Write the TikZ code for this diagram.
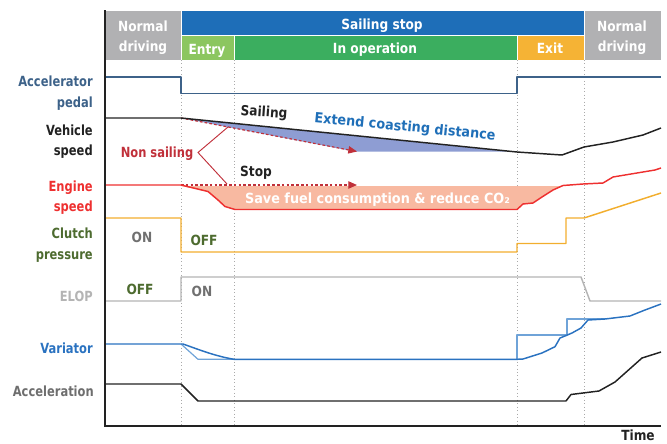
\documentclass[tikz,border=0pt]{standalone}
\usepackage{fontspec}
\setmainfont{DejaVu Sans}[FakeStretch=0.82]
\newfontfamily\midfont{DejaVu Sans}[FakeStretch=0.87]
\newfontfamily\widefont{DejaVu Sans}[FakeStretch=0.915]
\usetikzlibrary{arrows.meta}

\definecolor{hdrgray}{HTML}{B1B1B3}
\definecolor{hdrblue}{HTML}{1E6EB8}
\definecolor{entrygreen}{HTML}{8CC660}
\definecolor{opgreen}{HTML}{3BAE5F}
\definecolor{exitorange}{HTML}{F5B335}
\definecolor{pedalblue}{HTML}{3D6289}
\definecolor{inkblack}{HTML}{222222}
\definecolor{enginered}{HTML}{EE3030}
\definecolor{clutchgreen}{HTML}{4D6B2F}
\definecolor{clutchorange}{HTML}{F2AE2E}
\definecolor{elopgray}{HTML}{B4B4B4}
\definecolor{varblue}{HTML}{2A72C0}
\definecolor{varlight}{HTML}{6FA3D8}
\definecolor{accgray}{HTML}{6E6E6E}
\definecolor{sailfill}{HTML}{8E9DD3}
\definecolor{fuelfill}{HTML}{F8B9A1}
\definecolor{nsred}{HTML}{C0303A}
\definecolor{coastblue}{HTML}{1F6FB8}
\definecolor{ongray}{HTML}{707070}
\definecolor{guidegray}{HTML}{AAAAAA}

\tikzset{
  lbl/.style={font=\bfseries\fontsize{10.5}{12}\selectfont, inner sep=0pt},
  midlbl/.style={font=\midfont\bfseries\fontsize{10.5}{12}\selectfont, inner sep=0pt},
  widelbl/.style={font=\widefont\bfseries\fontsize{10.5}{12}\selectfont, inner sep=0pt},
  hdrbox/.style={draw=white, line width=0.6pt},
  guide/.style={guidegray, dotted, line width=0.6pt},
  sig/.style={line width=1.1pt, line join=round},
  ghost/.style={nsred, line width=0.9pt, dash pattern=on 2pt off 1.6pt,
    -{Triangle[length=6.5pt,width=5.5pt]}},
}

\begin{document}
\begin{tikzpicture}[x=0.75pt,y=-0.75pt]
\useasboundingbox (0,0) rectangle (667,443);

% phase header
\path[hdrbox, fill=hdrgray] (105,10) rectangle (181,60);
\path[hdrbox, fill=hdrblue] (181,10) rectangle (584,35);
\path[hdrbox, fill=entrygreen] (181,35) rectangle (234,60);
\path[hdrbox, fill=opgreen] (234,35) rectangle (517,60);
\path[hdrbox, fill=exitorange] (517,35) rectangle (584,60);
\path[hdrbox, fill=hdrgray] (584,10) rectangle (661,60);

\node[midlbl, white, anchor=base] (nd1a) at (143,31.5) {Normal};
\node[midlbl, white, anchor=base] (nd1b) at (143,51.5) {driving};
\node[midlbl, white, anchor=base] (sstop) at (382,29.3) {Sailing stop};
\node[midlbl, white, anchor=base] (entry) at (207,54) {Entry};
\node[midlbl, white, anchor=base] (inop) at (375,53.3) {In operation};
\node[midlbl, white, anchor=base] (exit) at (550,53.3) {Exit};
\node[midlbl, white, anchor=base] (nd2a) at (622,31.5) {Normal};
\node[midlbl, white, anchor=base] (nd2b) at (622,51.5) {driving};

% phase boundaries
\foreach \gx in {181,234,517,584}
  \draw[guide] (\gx,60) -- (\gx,426);

% shaded gains
\fill[sailfill] (181,118) -- (508,151.6) -- (355,151.6) -- cycle;
\fill[fuelfill] (181,186) -- (208,191.5) -- (218,200) -- (225,206.5) -- (235,209.5)
  -- (517,209.5) -- (523,204) -- (533,203) -- (542,197) -- (553,190) -- (561,186) -- cycle;

% reference behaviour without sailing
\draw[ghost] (181,118) -- (357,151.5);
\draw[ghost] (181,185) -- (357,185);

% accelerator pedal
\draw[sig, pedalblue] (105,77) -- (181,77) -- (181,93.5) -- (517,93.5) -- (517,77) -- (661,77);
% vehicle speed
\draw[sig, inkblack] (105,118) -- (181,118) -- (517,152) -- (562,155) -- (584,147)
  -- (613,142) -- (643,135) -- (661,128);
% engine speed
\draw[sig, enginered] (105,185) -- (181,185) -- (208,191.5) -- (218,200) -- (225,206.5)
  -- (235,209.5) -- (517,209.5) -- (523,204) -- (533,203) -- (542,197) -- (553,190)
  -- (563,185.5) -- (583,184) -- (603,183) -- (613,177) -- (655,170) -- (661,168);
% clutch pressure
\draw[sig, clutchorange] (105,218) -- (181,218) -- (181,252) -- (517,252) -- (517,243.5)
  -- (566,243.5) -- (566,218) -- (584,218) -- (661,193);
% ELOP
\draw[sig, elopgray] (105,301) -- (181,301) -- (181,277) -- (581,277) -- (590,301) -- (661,301);
% variator: commanded (light) and actual (dark)
\draw[sig, varlight, line width=0.9pt] (181,344) -- (198,359.3) -- (234,359.3);
\draw[sig, varlight, line width=0.9pt] (517,359.3) -- (517,335) -- (567,335) -- (567,319) -- (605,319);
\draw[sig, varblue] (105,344) -- (183,344) .. controls (200,350) and (215,356) .. (234,359.3)
  -- (517,359.3) -- (523,359) -- (542,353) -- (555,346.7) -- (560,338) -- (565,336)
  -- (572,333) -- (581,328) -- (588,320) -- (605,319) -- (630,316) -- (645,310) -- (661,304);
% acceleration
\draw[sig, inkblack] (105,384) -- (181,384) -- (198,401) -- (566,401) -- (571,394.5)
  -- (599,391) -- (615,382) -- (642,358) -- (661,352);

% axes
\draw[inkblack, line width=2.2pt] (105,10) -- (105,426) -- (661,426);

% signal names
\node[lbl, pedalblue, anchor=base east] (lacc1) at (93,86.5) {Accelerator};
\node[lbl, pedalblue, anchor=base east] (lacc2) at (93,107) {pedal};
\node[lbl, inkblack, anchor=base east] (lveh1) at (93,135) {Vehicle};
\node[lbl, inkblack, anchor=base east] (lveh2) at (93,155.5) {speed};
\node[lbl, enginered, anchor=base east] (leng1) at (93,191) {Engine};
\node[lbl, enginered, anchor=base east] (leng2) at (93,211.5) {speed};
\node[lbl, clutchgreen, anchor=base east] (lclu1) at (93,238.5) {Clutch};
\node[lbl, clutchgreen, anchor=base east] (lclu2) at (93,259.3) {pressure};
\node[lbl, elopgray, anchor=base east] (lelop) at (93,301.7) {ELOP};
\node[lbl, varblue, anchor=base east] (lvar) at (93,353.3) {Variator};
\node[lbl, accgray, anchor=base east] (lacl) at (94,396.7) {Acceleration};

% state annotations
\node[midlbl, ongray, anchor=base] (clon) at (142,242) {ON};
\node[midlbl, clutchgreen, anchor=base] (cloff) at (204,245) {OFF};
\node[midlbl, clutchgreen, anchor=base] (eloff) at (140,294) {OFF};
\node[midlbl, ongray, anchor=base] (elon) at (202,296) {ON};

% effect annotations
\node[midlbl, inkblack, rotate=-4] (sail) at (264,113) {Sailing};
\node[widelbl, coastblue, rotate=-5.6] (coast) at (405,127.5) {Extend coasting distance};
\node[midlbl, inkblack, anchor=base] (stop) at (256,176) {Stop};
\node[widelbl, white, anchor=base] (fuel) at (377.5,203.3) {Save fuel consumption \& reduce CO₂};
\node[lbl, nsred, anchor=base] (nonsail) at (157,157.3) {Non sailing};

% bracket tying the label to both reference curves
\coordinate (nsapex) at (198,152.5);
\coordinate (nstop) at (228,127);
\coordinate (nsbot) at (227,184);
\draw[nsred, line width=0.7pt] (nstop) -- (nsapex) -- (nsbot);

\node[midlbl, inkblack, anchor=base] (time) at (638,440.5) {Time};
\end{tikzpicture}
\end{document}
